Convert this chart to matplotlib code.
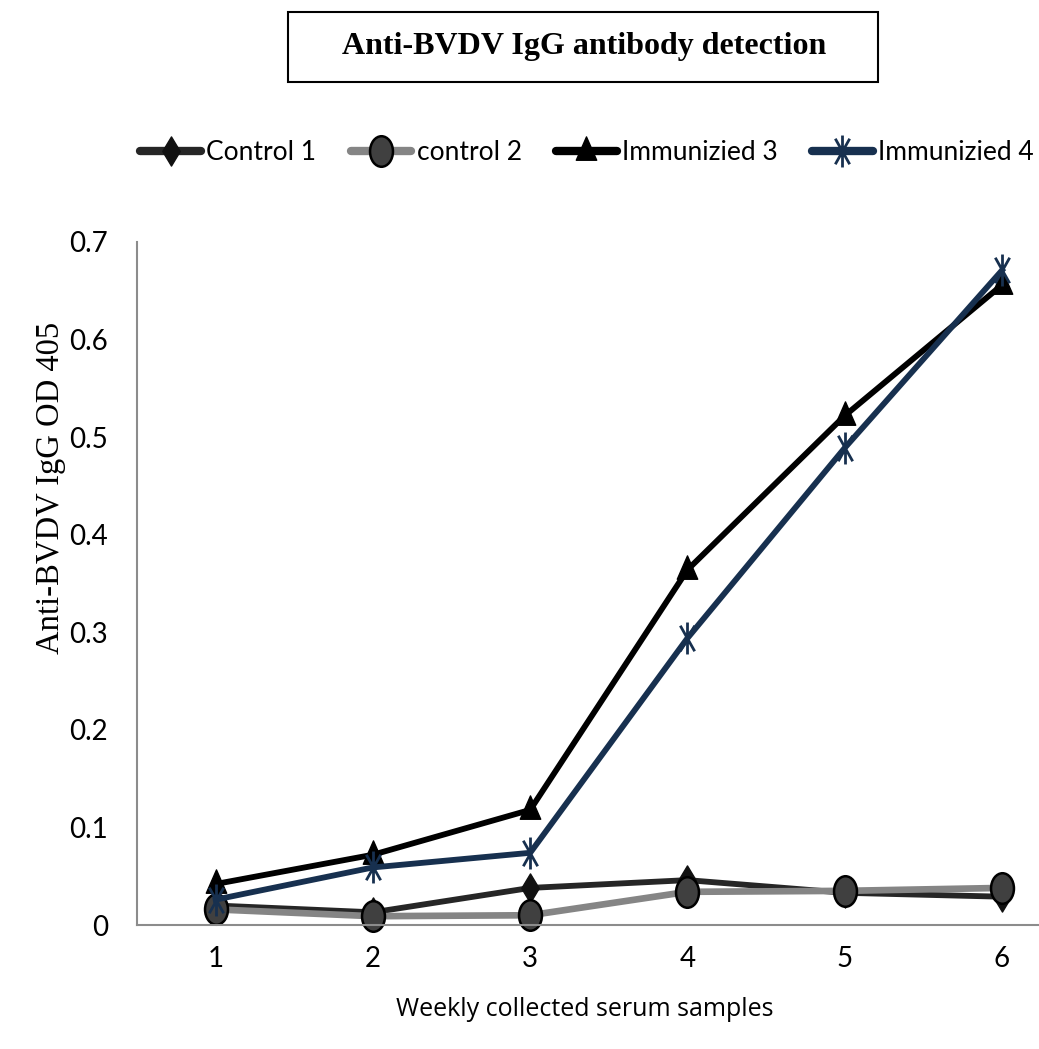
import numpy as np
import matplotlib.pyplot as plt
from matplotlib.path import Path
from matplotlib.patches import Rectangle

# weekly samples
weeks = [1, 2, 3, 4, 5, 6]
control_1 = [0.020, 0.013, 0.038, 0.046, 0.033, 0.029]
control_2 = [0.016, 0.009, 0.010, 0.034, 0.035, 0.038]
immunized_3 = [0.042, 0.072, 0.118, 0.364, 0.522, 0.656]
immunized_4 = [0.026, 0.059, 0.074, 0.294, 0.489, 0.671]
labels = ['Control 1', 'control 2', 'Immunizied 3', 'Immunizied 4']
y_ticks = [0, 0.1, 0.2, 0.3, 0.4, 0.5, 0.6, 0.7]
y_tick_labels = ['0', '0.1', '0.2', '0.3', '0.4', '0.5', '0.6', '0.7']

sans = ['Lato', 'DejaVu Sans']

# markers stretched vertically, like the original picture
def squash(path, sx):
    return Path(path.vertices * np.array([sx, 1.0]), path.codes)

ellipse = squash(Path.unit_circle(), 0.75)
diamond = Path([(0, 1), (0.6, 0), (0, -1), (-0.6, 0), (0, 1)], closed=True)
triangle = Path([(0, 1), (0.7, -0.6), (-0.7, -0.6), (0, 1)], closed=True)
star = Path([(0, 1), (0, -1), (-0.45, 0.8), (0.45, -0.8), (0.45, 0.8), (-0.45, -0.8)],
            [Path.MOVETO, Path.LINETO, Path.MOVETO, Path.LINETO, Path.MOVETO, Path.LINETO])

fig = plt.figure(figsize=(10.39, 10.49), dpi=100)
ax = fig.add_axes([137 / 1039, 1 - 925 / 1049, 902 / 1039, (925 - 242) / 1049])

ax.plot(weeks, control_1, color='#262626', lw=4.2, marker=diamond, ms=21,
        mfc='#111111', mec='#111111', clip_on=False, label=labels[0])
ax.plot(weeks, control_2, color='#858585', lw=4.8, marker=ellipse, ms=22,
        mfc='#404040', mec='black', mew=1.8, clip_on=False, label=labels[1])
ax.plot(weeks, immunized_3, color='black', lw=4.2, marker=triangle, ms=21,
        mfc='black', mec='black', clip_on=False, label=labels[2])
ax.plot(weeks, immunized_4, color='#17304f', lw=4.2, marker=star, ms=23,
        mfc='none', mec='#17304f', mew=2.0, clip_on=False, label=labels[3])

ax.set_xlim(0.5, 6.235)
ax.set_ylim(0, 0.7)
ax.set_xticks(weeks)
ax.set_xticklabels([str(w) for w in weeks], family=sans, fontsize=20)
ax.set_yticks(y_ticks)
ax.set_yticklabels(y_tick_labels, family=sans, fontsize=20)
ax.tick_params(length=0)
ax.tick_params(axis='y', pad=21)
ax.tick_params(axis='x', pad=15)
for s in ['top', 'right']:
    ax.spines[s].set_visible(False)
for s in ['left', 'bottom']:
    ax.spines[s].set_color('#8c8c8c')
    ax.spines[s].set_linewidth(1.5)

# boxed title
fig.patches.append(Rectangle((288 / 1039, 1 - 82 / 1049), 590 / 1039, 70 / 1049,
                             transform=fig.transFigure, fill=False, ec='black', lw=1.5))
fig.text(584 / 1039, 1 - 47 / 1049, 'Anti-BVDV IgG antibody detection', ha='center', va='center',
         family='Liberation Serif', fontweight='bold', fontsize=23)

fig.text(51 / 1039, 1 - 488 / 1049, 'Anti-BVDV IgG OD 405', rotation=90, ha='center', va='center',
         family='Liberation Serif', fontsize=23.5)
fig.text(585 / 1039, 1 - 1010 / 1049, 'Weekly collected serum samples', ha='center', va='center',
         family='Open Sans', fontsize=18)

handles, lbls = ax.get_legend_handles_labels()
leg = fig.legend(handles, lbls, loc='center', bbox_to_anchor=(587 / 1039, 1 - 153 / 1049), ncol=4,
                 frameon=False, prop={'family': sans, 'size': 19}, handlelength=2.3,
                 handletextpad=0.2, columnspacing=1.3, markerscale=1.0)
for line in leg.get_lines():
    line.set_linewidth(6)
    line.set_solid_capstyle('round')

fig.savefig('out.png', dpi=100)
